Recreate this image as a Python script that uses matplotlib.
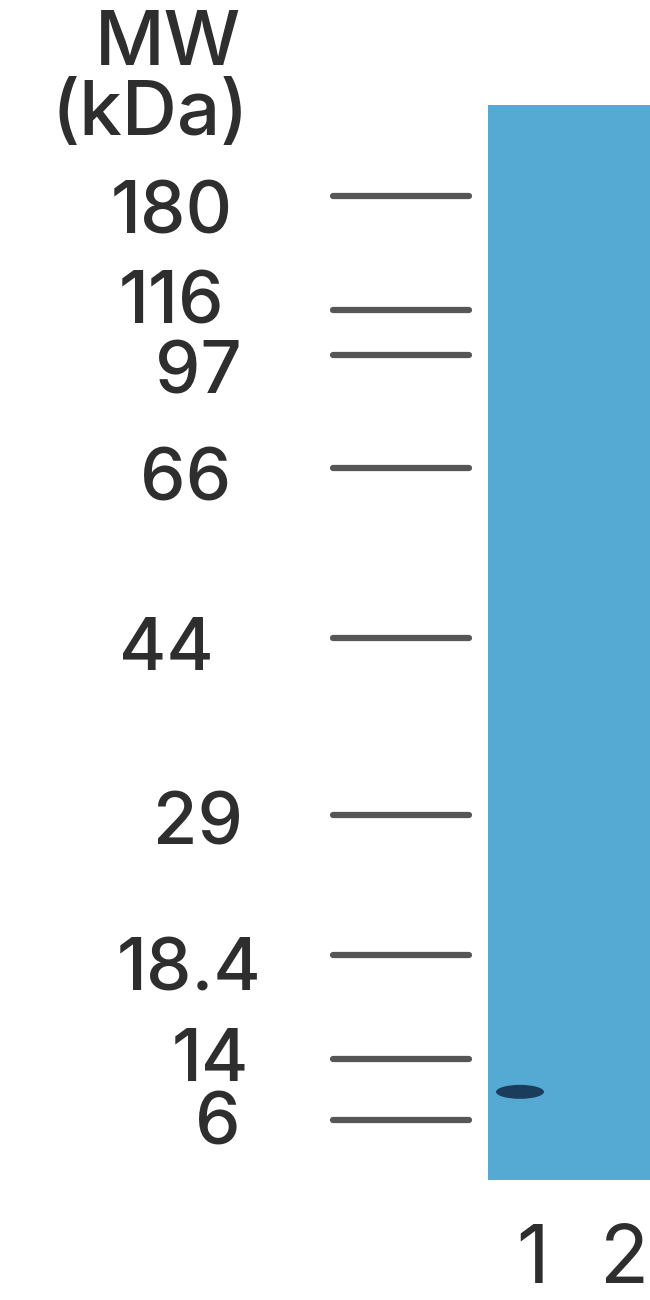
import matplotlib.pyplot as plt
from matplotlib.patches import Rectangle, Ellipse

# marker ladder: label and migration (fraction of gel length from the top)
marker_labels = ['180', '116', '97', '66', '44', '29', '18.4', '14', '6']
marker_pos = [0.085, 0.191, 0.233, 0.338, 0.496, 0.660, 0.791, 0.887, 0.944]
# detected band in lane 1
band_lane = [1]
band_pos = [0.918]
lane_labels = ['1', '2']

plt.rcParams['font.family'] = ['Inter', 'DejaVu Sans']

fig = plt.figure(figsize=(6.5, 13), dpi=100)
ax = fig.add_axes([0, 0, 1, 1])
ax.set_xlim(0, 650)
# gel top at 105 px, bottom at 1180 px of a 1300 px figure
ax.set_ylim(1 + 120 / 1075, -105 / 1075)
ax.axis('off')
px = 1 / 1075  # one pixel in gel units

gel_col = '#55aad3'
ax.add_patch(Rectangle((488, 0), 200, 1, color=gel_col, lw=0))

# ladder ticks
ax.hlines(marker_pos, 333, 469, color='#565656', lw=4.5, capstyle='round')
label_x = [172, 172, 198, 186, 166, 198, 189, 210, 218]
label_dy = [37, 13, 38, 32, 32, 30, 35, 22, 25]
for lab, y, x, dy in zip(marker_labels, marker_pos, label_x, label_dy):
    ax.text(x, y + dy * px, lab, ha='center', va='baseline', fontsize=52,
            fontweight='medium', color='#2e2e2e')

ax.text(168, 65 * px - 105 * px, 'MW', ha='center', va='baseline', fontsize=55,
        fontweight='medium', color='#2e2e2e')
ax.text(150, 135 * px - 105 * px, '(kDa)', ha='center', va='baseline', fontsize=55,
        fontweight='medium', color='#2e2e2e')

# band
lane_x = {1: 520, 2: 610}
for ln, y in zip(band_lane, band_pos):
    ax.add_patch(Ellipse((lane_x[ln], y), 48, 14 * px, color='#1b3d5c', lw=0))

for x, lab in zip([533, 625], lane_labels):
    ax.text(x, 1 + 103 * px, lab, ha='center', va='baseline',
            fontsize=58, color='#2e2e2e')

fig.savefig('out.png', dpi=100)
